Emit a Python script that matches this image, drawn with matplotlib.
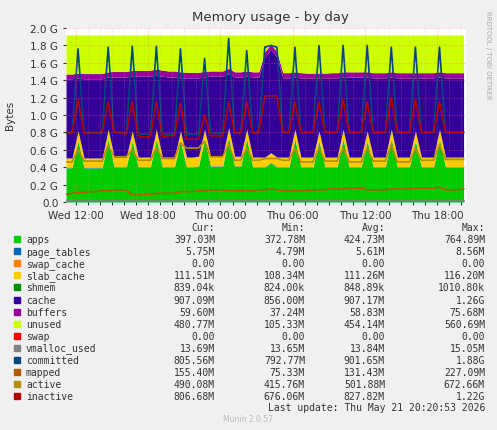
import numpy as np
import matplotlib
matplotlib.use("Agg")
import matplotlib.pyplot as plt
from matplotlib.ticker import MultipleLocator, FixedLocator

hours = np.arange(67) * 0.5
mem_total = 1.92
apps = [.39,.39,.70,.39,.39,.39,.39,.72,.40,.40,
        .40,.70,.40,.40,.40,.72,.40,.40,.40,.70,
        .40,.40,.41,.72,.41,.41,.41,.74,.41,.41,
        .72,.40,.40,.40,.45,.40,.40,.40,.72,.40,
        .40,.40,.70,.40,.40,.40,.72,.40,.40,.40,
        .70,.40,.40,.40,.72,.40,.40,.40,.70,.40,
        .40,.40,.72,.40,.40,.40,.40]
page_tables = [0.0056]*67
swap_cache = [0.0]*67
slab_cache = [0.11]*67
shmem = [0.0008]*67
cache = [.91,.91,.61,.91,.91,.91,.91,.60,.92,.92,
         .92,.63,.93,.93,.93,.62,.93,.92,.92,.61,
         .91,.91,.90,.60,.92,.92,.92,.62,.91,.91,
         .61,.92,.92,1.15,1.19,1.15,.91,.91,.60,.91,
         .91,.91,.61,.91,.91,.91,.60,.92,.92,.92,
         .62,.91,.91,.91,.60,.91,.91,.91,.61,.91,
         .91,.91,.60,.91,.91,.91,.91]
buffers = [.055,.055,.055,.06,.06,.06,.06,.06,.065,.065,
           .065,.065,.065,.065,.07,.07,.07,.07,.07,.07,
           .065,.065,.065,.065,.06,.06,.06,.06,.06,.06,
           .06,.06,.06,.06,.06,.06,.06,.06,.06,.06,
           .055,.055,.055,.055,.06,.06,.06,.06,.06,.06,
           .06,.06,.06,.06,.06,.06,.06,.06,.06,.06,
           .06,.06,.06,.06,.06,.06,.06]
committed = [.80,.80,1.76,.80,.80,.80,.80,1.78,.80,.80,
             .78,1.79,.78,.78,.78,1.79,.78,.78,.78,1.76,
             .78,.78,.78,1.65,.79,.79,.79,1.88,.79,.79,
             1.74,.79,.80,1.78,1.80,1.78,.80,.80,1.78,.80,
             .80,.80,1.80,.80,.80,.80,1.80,.80,.80,.80,
             1.80,.80,.80,.80,1.78,.80,.80,.80,1.78,.80,
             .80,.80,1.78,.80,.80,.80,.80]
inactive = [.79,.79,1.18,.79,.79,.79,.79,1.15,.80,.80,
            .78,1.15,.75,.75,.75,1.15,.75,.76,.76,1.14,
            .72,.72,.72,1.0,.76,.76,.76,1.15,.79,.79,
            1.15,.79,.80,1.22,1.22,1.22,.80,.80,1.15,.80,
            .80,.80,1.15,.80,.80,.80,1.18,.80,.80,.80,
            1.15,.80,.80,.80,1.20,.80,.80,.80,1.18,.80,
            .80,.80,1.15,.80,.80,.80,.80]
active = [.46,.46,.60,.47,.47,.47,.47,.65,.52,.52,
          .52,.60,.48,.48,.48,.62,.50,.50,.50,.68,
          .62,.62,.62,.70,.52,.52,.52,.66,.48,.48,
          .62,.48,.48,.50,.50,.50,.48,.48,.62,.46,
          .46,.46,.62,.47,.47,.47,.62,.46,.46,.46,
          .62,.47,.47,.47,.66,.46,.46,.46,.62,.48,
          .48,.48,.66,.49,.49,.49,.49]
mapped = [.09,.10,.11,.11,.12,.12,.13,.13,.14,.14,
          .14,.08,.08,.09,.09,.10,.10,.10,.10,.12,
          .12,.12,.13,.13,.14,.14,.14,.13,.13,.13,
          .13,.13,.14,.14,.15,.14,.13,.13,.13,.13,
          .13,.14,.14,.14,.15,.15,.15,.16,.16,.16,
          .14,.14,.14,.14,.15,.15,.15,.15,.16,.16,
          .16,.16,.17,.14,.14,.14,.15]
swap = [0.0]*67
vmalloc_used = [0.0137]*67

tick_pos = [0.82, 6.82, 12.82, 18.82, 24.82, 30.82]
tick_labels = ["Wed 12:00", "Wed 18:00", "Thu 00:00", "Thu 06:00", "Thu 12:00", "Thu 18:00"]

names = ["apps","page_tables","swap_cache","slab_cache","shmem","cache","buffers","unused",
         "swap","vmalloc_used","committed","mapped","active","inactive"]
colors = ["#00CC00","#0066B3","#FF8000","#FFCC00","#008F00","#330099","#990099","#CCFF00",
          "#FF0000","#808080","#00487D","#B35A00","#B38F00","#B30000"]
cur = ["397.03M","5.75M","0.00","111.51M","839.04k","907.09M","59.60M","480.77M","0.00","13.69M","805.56M","155.40M","490.08M","806.68M"]
mn = ["372.78M","4.79M","0.00","108.34M","824.00k","856.00M","37.24M","105.33M","0.00","13.65M","792.77M","75.33M","415.76M","676.06M"]
avg = ["424.73M","5.61M","0.00","111.26M","848.89k","907.17M","58.83M","454.14M","0.00","13.84M","901.65M","131.43M","501.88M","827.82M"]
mx = ["764.89M","8.56M","0.00","116.20M","1010.80k","1.26G","75.68M","560.69M","0.00","15.05M","1.88G","227.09M","672.66M","1.22G"]

fig = plt.figure(figsize=(4.97, 4.31), dpi=100, facecolor="#F0F0F0")
ax = fig.add_axes([66/497, 1-203/431, 400/497, 174/431])
ax.set_facecolor("white")

stack = [apps, page_tables, swap_cache, slab_cache, shmem, cache, buffers]
base = np.zeros(67)
for s, c in zip(stack, colors[:7]):
    top = base + np.array(s)
    ax.fill_between(hours, base, top, color=c, lw=0)
    base = top
ax.fill_between(hours, base, np.full(67, mem_total), color=colors[7], lw=0)
for s, c in zip([swap, vmalloc_used, committed, mapped, active, inactive], colors[8:]):
    ax.plot(hours, s, color=c, lw=1.2)

ax.set_xlim(0, 33.2)
ax.set_ylim(0, 2.0)
ax.set_yticks(np.arange(0, 2.01, 0.2))
ax.set_yticklabels(["0.0"] + ["%.1f G" % v for v in np.arange(0.2, 2.01, 0.2)])
ax.xaxis.set_major_locator(FixedLocator(tick_pos))
ax.set_xticklabels(tick_labels)
ax.xaxis.set_minor_locator(FixedLocator(np.arange(0.82, 33.2, 1.0)))
ax.grid(True, which="major", color="#FF6060", ls=(0, (1, 2)), lw=0.6, alpha=0.6)
ax.grid(True, which="minor", axis="x", color="#E0A0A0", ls=(0, (1, 2)), lw=0.5, alpha=0.5)
ax.tick_params(labelsize=7.5, colors="#333333", length=2)
for sp in ax.spines.values():
    sp.set_visible(False)
ax.set_axisbelow(False)

fig.text(270/497, 1-18/431, "Memory usage - by day", ha="center", va="center", fontsize=9.5, color="#333333")
fig.text(10/497, 1-115/431, "Bytes", rotation=90, ha="center", va="center", fontsize=7.5, color="#333333")
fig.text(488/497, 1-55/431, "RRDTOOL / TOBI OETIKER", rotation=270, ha="center", va="center", fontsize=5, color="#AAAAAA")

mono = "DejaVu Sans Mono"
y0 = 228
for x, h in [(215, "Cur:"), (305, "Min:"), (385, "Avg:"), (485, "Max:")]:
    fig.text(x/497, 1-y0/431, h, ha="right", va="center", fontsize=7, family=mono, color="#333333")
for i, n in enumerate(names):
    y = 240 + i*12.1
    fig.patches.append(plt.Rectangle((14/497, 1-(y+3)/431), 6/497, 6/431, transform=fig.transFigure, color=colors[i]))
    fig.text(26/497, 1-y/431, n, ha="left", va="center", fontsize=7, family=mono, color="#333333")
    for x, v in [(215, cur[i]), (305, mn[i]), (385, avg[i]), (485, mx[i])]:
        fig.text(x/497, 1-y/431, v, ha="right", va="center", fontsize=7, family=mono, color="#333333")
fig.text(485/497, 1-408/431, "Last update: Thu May 21 20:20:53 2026", ha="right", va="center", fontsize=7, family=mono, color="#333333")
fig.text(248/497, 1-420/431, "Munin 2.0.57", ha="center", va="center", fontsize=5.5, color="#BBBBBB")

fig.savefig("out.png", dpi=100, facecolor=fig.get_facecolor())
